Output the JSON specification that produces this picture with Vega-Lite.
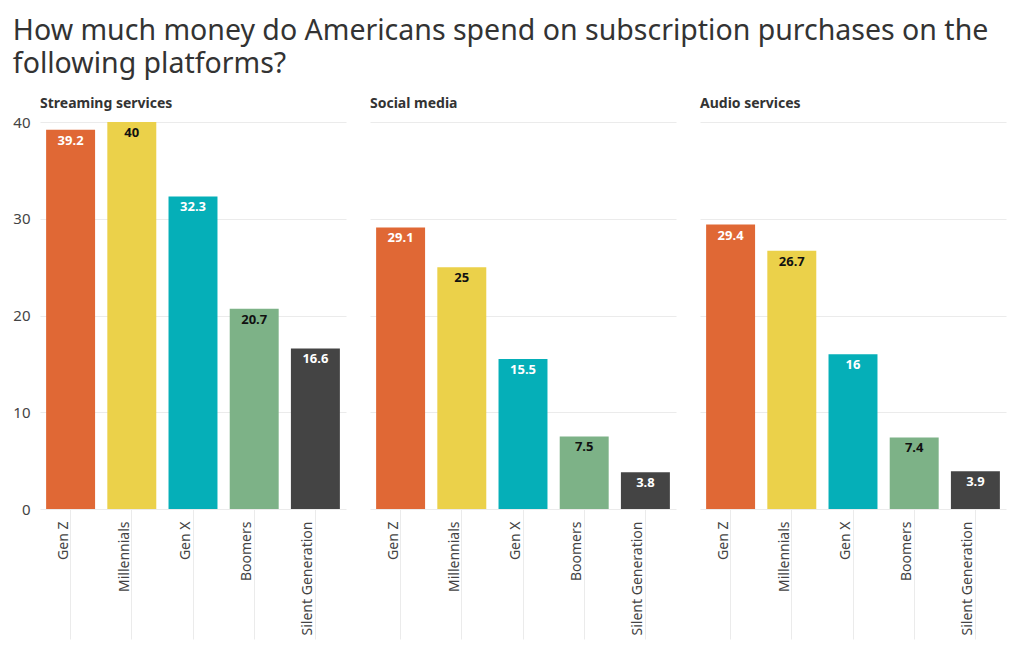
{
  "$schema": "https://vega.github.io/schema/vega-lite/v6.json",
  "padding": {"left": 12, "top": 16, "right": 10, "bottom": 5},
  "title": {
    "text": ["How much money do Americans spend on subscription purchases on the", "following platforms?"],
    "anchor": "start",
    "frame": "bounds",
    "fontSize": 28.5,
    "fontWeight": "normal",
    "font": "Noto Sans",
    "color": "#333333",
    "lineHeight": 33,
    "offset": 19
  },
  "data": {
    "values": [
      {"platform": "Streaming services", "generation": "Gen Z", "value": 39.2},
      {"platform": "Streaming services", "generation": "Millennials", "value": 40},
      {"platform": "Streaming services", "generation": "Gen X", "value": 32.3},
      {"platform": "Streaming services", "generation": "Boomers", "value": 20.7},
      {"platform": "Streaming services", "generation": "Silent Generation", "value": 16.6},
      {"platform": "Social media", "generation": "Gen Z", "value": 29.1},
      {"platform": "Social media", "generation": "Millennials", "value": 25},
      {"platform": "Social media", "generation": "Gen X", "value": 15.5},
      {"platform": "Social media", "generation": "Boomers", "value": 7.5},
      {"platform": "Social media", "generation": "Silent Generation", "value": 3.8},
      {"platform": "Audio services", "generation": "Gen Z", "value": 29.4},
      {"platform": "Audio services", "generation": "Millennials", "value": 26.7},
      {"platform": "Audio services", "generation": "Gen X", "value": 16},
      {"platform": "Audio services", "generation": "Boomers", "value": 7.4},
      {"platform": "Audio services", "generation": "Silent Generation", "value": 3.9}
    ]
  },
  "facet": {
    "column": {
      "field": "platform",
      "type": "nominal",
      "sort": ["Streaming services", "Social media", "Audio services"],
      "title": null,
      "header": {
        "labelAnchor": "start",
        "labelAlign": "left",
        "labelFontSize": 14,
        "labelFontWeight": "bold",
        "labelFont": "Noto Sans",
        "labelColor": "#333333",
        "labelPadding": 11
      }
    }
  },
  "spacing": 24,
  "spec": {
    "width": 306,
    "height": 387,
    "encoding": {
      "x": {
        "field": "generation",
        "type": "nominal",
        "sort": ["Gen Z", "Millennials", "Gen X", "Boomers", "Silent Generation"],
        "scale": {"paddingInner": 0.2, "paddingOuter": 0.1},
        "axis": {
          "title": null,
          "labelAngle": -90,
          "labelAlign": "right",
          "labelBaseline": "bottom",
          "labelFontSize": 14,
          "labelFont": "Noto Sans",
          "labelColor": "#444444",
          "tickSize": 130,
          "tickColor": "#ebebeb",
          "labelPadding": -118,
          "domain": false,
          "grid": false
        }
      },
      "y": {
        "field": "value",
        "type": "quantitative",
        "scale": {"domain": [0, 40]},
        "axis": {
          "title": null,
          "values": [0, 10, 20, 30, 40],
          "labelFontSize": 15,
          "labelFont": "Noto Sans",
          "labelColor": "#444444",
          "ticks": false,
          "domain": false,
          "labelPadding": 10,
          "gridColor": "#ebebeb"
        }
      }
    },
    "layer": [
      {
        "mark": {"type": "bar"},
        "encoding": {
          "color": {
            "field": "generation",
            "type": "nominal",
            "scale": {
              "domain": ["Gen Z", "Millennials", "Gen X", "Boomers", "Silent Generation"],
              "range": ["#E06835", "#EBD14A", "#05AFB8", "#7DB287", "#444444"]
            },
            "legend": null
          }
        }
      },
      {
        "mark": {"type": "text", "baseline": "top", "dy": 5, "fontSize": 13, "fontWeight": "bold", "font": "Noto Sans"},
        "encoding": {
          "text": {"field": "value", "type": "quantitative"},
          "color": {
            "condition": {"test": "datum.generation === 'Millennials' || datum.generation === 'Boomers'", "value": "#111111"},
            "value": "#ffffff"
          }
        }
      }
    ]
  },
  "config": {
    "view": {"stroke": null},
    "axis": {"gridColor": "#ebebeb"}
  }
}
